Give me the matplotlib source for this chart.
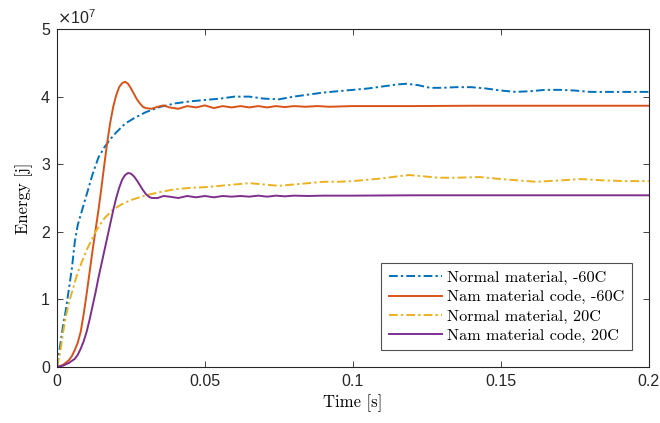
import matplotlib
matplotlib.use('Agg')
import matplotlib.pyplot as plt

# values (energy in units of 1e7 J)
t_blue = [0, 0.001, 0.002, 0.003, 0.004, 0.005, 0.006, 0.007, 0.008, 0.009, 0.010,
          0.012, 0.014, 0.016, 0.018, 0.020, 0.023, 0.026, 0.030, 0.035, 0.040,
          0.045, 0.050, 0.055, 0.060, 0.065, 0.070, 0.075, 0.080, 0.085, 0.090,
          0.095, 0.100, 0.105, 0.110, 0.115, 0.118, 0.122, 0.126, 0.130, 0.135,
          0.140, 0.145, 0.150, 0.155, 0.160, 0.165, 0.170, 0.175, 0.180, 0.185,
          0.190, 0.200]
e_blue = [0, 0.3, 0.6, 0.85, 1.15, 1.45, 1.85, 2.1, 2.25, 2.4, 2.55,
          2.85, 3.1, 3.25, 3.37, 3.47, 3.6, 3.68, 3.77, 3.85, 3.9,
          3.93, 3.95, 3.97, 4.0, 4.0, 3.97, 3.96, 4.0, 4.03, 4.06,
          4.08, 4.1, 4.12, 4.15, 4.18, 4.19, 4.17, 4.13, 4.13, 4.14,
          4.14, 4.12, 4.09, 4.07, 4.08, 4.1, 4.1, 4.09, 4.07, 4.07,
          4.07, 4.07]

t_orange = [0, 0.002, 0.004, 0.005, 0.006, 0.007, 0.008, 0.009, 0.010, 0.011,
            0.012, 0.013, 0.014, 0.015, 0.016, 0.017, 0.018, 0.019, 0.020, 0.021,
            0.022, 0.023, 0.024, 0.025, 0.026, 0.027, 0.028, 0.029, 0.030, 0.032,
            0.034, 0.036, 0.038, 0.041, 0.044, 0.047, 0.050, 0.053, 0.056, 0.059,
            0.062, 0.065, 0.068, 0.071, 0.074, 0.077, 0.080, 0.084, 0.088, 0.092,
            0.100, 0.120, 0.140, 0.160, 0.180, 0.200]
e_orange = [0, 0.03, 0.1, 0.16, 0.25, 0.36, 0.52, 0.78, 1.08, 1.4,
            1.72, 2.02, 2.32, 2.65, 3.0, 3.33, 3.62, 3.85, 4.02, 4.14,
            4.2, 4.22, 4.19, 4.12, 4.04, 3.96, 3.9, 3.85, 3.83, 3.82,
            3.85, 3.87, 3.84, 3.82, 3.86, 3.84, 3.87, 3.83, 3.86, 3.84,
            3.86, 3.84, 3.86, 3.84, 3.86, 3.845, 3.86, 3.85, 3.86, 3.85,
            3.86, 3.86, 3.865, 3.865, 3.865, 3.865]

t_yellow = [0, 0.001, 0.002, 0.003, 0.004, 0.005, 0.007, 0.010, 0.013, 0.016,
            0.019, 0.022, 0.025, 0.030, 0.035, 0.040, 0.045, 0.050, 0.055, 0.060,
            0.065, 0.070, 0.075, 0.080, 0.085, 0.090, 0.095, 0.100, 0.105, 0.110,
            0.115, 0.119, 0.124, 0.129, 0.135, 0.143, 0.150, 0.156, 0.162, 0.170,
            0.177, 0.185, 0.192, 0.200]
e_yellow = [0, 0.2, 0.5, 0.75, 0.95, 1.1, 1.4, 1.73, 2.0, 2.2,
            2.33, 2.41, 2.47, 2.54, 2.59, 2.63, 2.65, 2.66, 2.68, 2.7,
            2.72, 2.7, 2.68, 2.7, 2.72, 2.74, 2.74, 2.75, 2.77, 2.79,
            2.82, 2.84, 2.82, 2.8, 2.8, 2.81, 2.78, 2.76, 2.74, 2.76,
            2.78, 2.76, 2.75, 2.75]

t_purple = [0, 0.002, 0.004, 0.006, 0.007, 0.008, 0.009, 0.010, 0.011, 0.012,
            0.013, 0.014, 0.015, 0.016, 0.017, 0.018, 0.019, 0.020, 0.021, 0.022,
            0.023, 0.024, 0.025, 0.026, 0.027, 0.028, 0.029, 0.030, 0.031, 0.032,
            0.034, 0.036, 0.038, 0.041, 0.044, 0.047, 0.050, 0.053, 0.056, 0.059,
            0.062, 0.065, 0.068, 0.071, 0.074, 0.077, 0.080, 0.085, 0.090, 0.100,
            0.120, 0.140, 0.160, 0.180, 0.200]
e_purple = [0, 0.02, 0.06, 0.12, 0.18, 0.27, 0.38, 0.52, 0.7, 0.9,
            1.1, 1.32, 1.52, 1.72, 1.92, 2.12, 2.32, 2.5, 2.65, 2.77,
            2.84, 2.87, 2.86, 2.82, 2.76, 2.69, 2.62, 2.56, 2.52, 2.5,
            2.5, 2.53, 2.52, 2.5, 2.53, 2.51, 2.53, 2.51, 2.53, 2.52,
            2.53, 2.52, 2.535, 2.52, 2.535, 2.525, 2.535, 2.53, 2.535, 2.535,
            2.54, 2.54, 2.54, 2.54, 2.54]

labels = ['Normal material, -60C', 'Nam material code, -60C',
          'Normal material, 20C', 'Nam material code, 20C']
colors = ['#0072BD', '#D95319', '#EDB120', '#7E2F8E']

x_ticks = [0, 0.05, 0.1, 0.15, 0.2]
x_ticklabels = ['0', '0.05', '0.1', '0.15', '0.2']
y_ticks = [0, 1, 2, 3, 4, 5]

plt.rcParams['font.family'] = 'Liberation Sans'
serif = 'cmr10'

fig = plt.figure(figsize=(6.6, 4.23), dpi=100)
ax = fig.add_axes([0.0864, 0.1324, 0.8966, 0.799])

dashdot = (0, (4.5, 1.6, 1.2, 1.6))
ax.plot(t_blue, e_blue, color=colors[0], lw=1.4, ls=dashdot, label=labels[0])
ax.plot(t_orange, e_orange, color=colors[1], lw=1.4, label=labels[1])
ax.plot(t_yellow, e_yellow, color=colors[2], lw=1.4, ls=dashdot, label=labels[2])
ax.plot(t_purple, e_purple, color=colors[3], lw=1.4, label=labels[3])

ax.set_xlim(0, 0.2)
ax.set_ylim(0, 5)
ax.set_xticks(x_ticks)
ax.set_xticklabels(x_ticklabels)
ax.set_yticks(y_ticks)
ax.tick_params(direction='in', top=True, right=True, length=4, width=0.6,
               labelsize=11.5, colors='#262626', pad=5)
for s in ax.spines.values():
    s.set_color('#262626')
    s.set_linewidth(0.8)

ax.text(0.0, 1.005, r'$\times\mathregular{10^{7}}$', transform=ax.transAxes,
        fontsize=11.5, color='#262626', ha='left', va='bottom')

ax.set_xlabel('Time [s]', fontfamily=serif, fontsize=12, labelpad=4)
ax.set_ylabel('Energy [j]', fontfamily=serif, fontsize=12, labelpad=6)

leg = ax.legend(loc='lower right', bbox_to_anchor=(0.971, 0.05),
                prop={'family': serif, 'size': 11.7}, frameon=True,
                fancybox=False, handlelength=3.3, handletextpad=0.3,
                labelspacing=0.3, borderpad=0.45, borderaxespad=0)
leg.get_frame().set_edgecolor('#262626')
leg.get_frame().set_linewidth(0.8)

fig.savefig('out.png', dpi=100)
